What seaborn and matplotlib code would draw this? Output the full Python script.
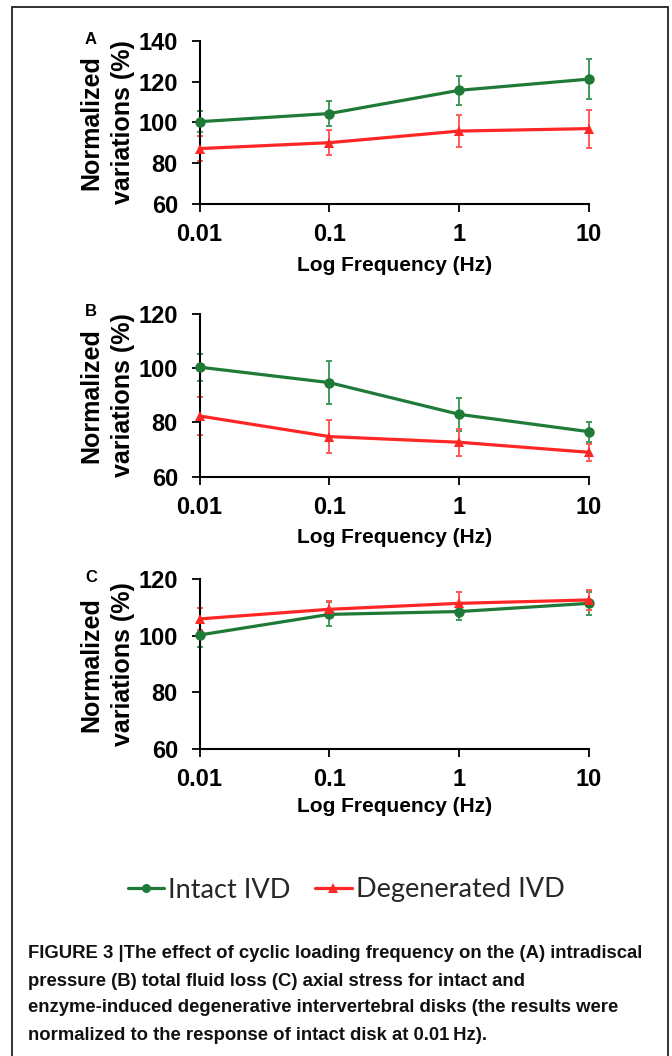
import matplotlib
matplotlib.use("Agg")
import matplotlib.pyplot as plt
import seaborn as sns
import pandas as pd
from matplotlib import font_manager
from matplotlib.lines import Line2D
from matplotlib.patches import Rectangle
from matplotlib.ticker import NullLocator, FixedLocator

# ---------------- data ----------------
freqs = [0.01, 0.1, 1, 10]
freq_labels = ["0.01", "0.1", "1", "10"]
series_names = ["Intact IVD", "Degenerated IVD"]

a_intact = [100.4, 104.4, 115.8, 121.3]
a_intact_err = [5.0, 6.2, 7.0, 10.0]
a_degen = [87.2, 90.1, 95.8, 97.0]
a_degen_err = [6.1, 6.1, 8.0, 9.3]

b_intact = [100.4, 94.7, 83.0, 76.6]
b_intact_err = [5.0, 8.0, 6.0, 3.7]
b_degen = [82.4, 74.8, 72.7, 69.0]
b_degen_err = [7.0, 6.0, 5.0, 3.2]

c_intact = [100.3, 107.6, 108.6, 111.5]
c_intact_err = [4.2, 4.2, 3.0, 4.0]
c_degen = [106.0, 109.4, 111.5, 112.7]
c_degen_err = [3.8, 3.0, 4.0, 3.5]

panel_letters = ["A", "B", "C"]
y_limits = [(60, 140), (60, 120), (60, 120)]
y_ticks = [[60, 80, 100, 120, 140], [60, 80, 100, 120], [60, 80, 100, 120]]
ylabel_lines = ["Normalized", "variations (%)"]
xlabel_text = "Log Frequency (Hz)"

caption_lines = [
    "FIGURE 3 |The effect of cyclic loading frequency on the (A) intradiscal",
    "pressure (B) total fluid loss (C) axial stress for intact and",
    "enzyme-induced degenerative intervertebral disks (the results were",
    "normalized to the response of intact disk at 0.01\u2009Hz).",
]

# ---------------- style ----------------
sns.set_theme(style="white")
plt.rcParams["font.family"] = ["Liberation Sans", "DejaVu Sans"]

GREEN = "#1e7a36"
GREEN_ERR = "#3f9a5c"
RED = "#ff2626"
RED_ERR = "#ff5a5a"
palette = {series_names[0]: GREEN, series_names[1]: RED}
err_colors = {series_names[0]: GREEN_ERR, series_names[1]: RED_ERR}
markers = {series_names[0]: "o", series_names[1]: "^"}


def has_font(name):
    try:
        font_manager.findfont(font_manager.FontProperties(family=name), fallback_to_default=False)
        return True
    except Exception:
        return False


if has_font("Liberation Sans Narrow"):
    caption_family = ["Liberation Sans Narrow", "DejaVu Sans"]
elif has_font("DejaVu Sans Condensed"):
    caption_family = ["DejaVu Sans Condensed", "DejaVu Sans"]
else:
    caption_family = ["Liberation Sans", "DejaVu Sans"]
legend_family = ["Lato", "DejaVu Sans"] if has_font("Lato") else ["Liberation Sans", "DejaVu Sans"]

W, H = 672, 1056
fig = plt.figure(figsize=(W / 100, H / 100), dpi=100)
fig.patch.set_facecolor("white")


def rect(l, t, r, b):
    return [l / W, 1 - b / H, (r - l) / W, (b - t) / H]


axes_px = [(199.5, 41, 589, 204), (199.5, 314, 589, 476.7), (199.5, 579.3, 589, 749)]
letter_y = [40, 312, 577]
xlabel_y = [266, 537, 807]
ylabel_x = [91, 123]

data_sets = [
    (a_intact, a_intact_err, a_degen, a_degen_err),
    (b_intact, b_intact_err, b_degen, b_degen_err),
    (c_intact, c_intact_err, c_degen, c_degen_err),
]

for i, (vals_i, err_i, vals_d, err_d) in enumerate(data_sets):
    l, t, r, b = axes_px[i]
    ax = fig.add_axes(rect(l, t, r, b))
    ax.set_xscale("log")
    df = pd.DataFrame({
        "freq": freqs * 2,
        "value": list(vals_i) + list(vals_d),
        "err": list(err_i) + list(err_d),
        "series": [series_names[0]] * len(freqs) + [series_names[1]] * len(freqs),
    })
    # error bars
    for name in series_names:
        sub = df[df["series"] == name]
        eb = ax.errorbar(sub["freq"], sub["value"], yerr=sub["err"], fmt="none",
                         ecolor=err_colors[name], elinewidth=1.4, capsize=2.5,
                         capthick=1.4, zorder=2)
        for art in list(eb.lines[1]) + list(eb.lines[2]):
            art.set_clip_on(False)
    sns.lineplot(data=df, x="freq", y="value", hue="series", style="series",
                 palette=palette, markers=markers, dashes=False, linewidth=2.3,
                 markersize=7.5, markeredgewidth=0, legend=False, ax=ax,
                 sort=False, zorder=3)
    for ln in ax.lines:
        ln.set_clip_on(False)
    for coll in ax.collections:
        coll.set_clip_on(False)

    ax.set_xlim(freqs[0], freqs[-1])
    ax.set_ylim(*y_limits[i])
    ax.xaxis.set_major_locator(FixedLocator(freqs))
    ax.xaxis.set_minor_locator(NullLocator())
    ax.set_xticks(freqs, freq_labels)
    ax.set_yticks(y_ticks[i], [str(v) for v in y_ticks[i]])
    for lab in ax.get_xticklabels() + ax.get_yticklabels():
        lab.set_fontweight("bold")
        lab.set_fontsize(17)
        lab.set_color("black")
    ax.tick_params(axis="x", direction="out", length=6, width=1.3, color="black", pad=8, bottom=True)
    ax.tick_params(axis="y", direction="out", length=5.5, width=1.3, color="black", pad=10, left=True)
    for s in ["top", "right"]:
        ax.spines[s].set_visible(False)
    for s in ["left", "bottom"]:
        ax.spines[s].set_color("black")
        ax.spines[s].set_linewidth(1.5)
    ax.set_facecolor("white")
    ax.grid(False)

    ax.set_xlabel(xlabel_text, fontsize=15, fontweight="bold", color="black")
    ax.xaxis.label.set_va("center")
    ax.xaxis.set_label_coords(0.5, (b - xlabel_y[i]) / (b - t))
    ax.set_ylabel("")
    for txt, xp in zip(ylabel_lines, ylabel_x):
        ax.text((xp - l) / (r - l), 0.5, txt, transform=ax.transAxes,
                rotation=90, ha="center", va="center", fontsize=18,
                fontweight="bold", color="black")

    fig.text(91 / W, 1 - letter_y[i] / H, panel_letters[i], fontsize=12,
             fontweight="bold", ha="center", va="center", color="black")

# legend
handles = [Line2D([], [], color=palette[n], lw=2.3, marker=markers[n], markersize=6.5,
                  markeredgewidth=0) for n in series_names]
fig.legend(handles, series_names, loc="center", bbox_to_anchor=(346 / W, 1 - 890 / H),
           ncol=2, frameon=False, handlelength=1.35, handletextpad=0.15,
           columnspacing=0.9, prop=font_manager.FontProperties(family=legend_family, size=19.5))

# caption
cap_y = [953, 981, 1008, 1035]
for yy, line in zip(cap_y, caption_lines):
    fig.text(28 / W, 1 - yy / H, line, fontsize=13.3, fontweight="bold",
             family=caption_family, ha="left", va="center", color="#111111")

# border
fig.add_artist(Rectangle((12 / W, -0.02), (668 - 12) / W, 1.02 - 7 / H,
                         transform=fig.transFigure, fill=False, edgecolor="#222222",
                         linewidth=1.3))

fig.savefig("out.png", dpi=100, facecolor="white")
